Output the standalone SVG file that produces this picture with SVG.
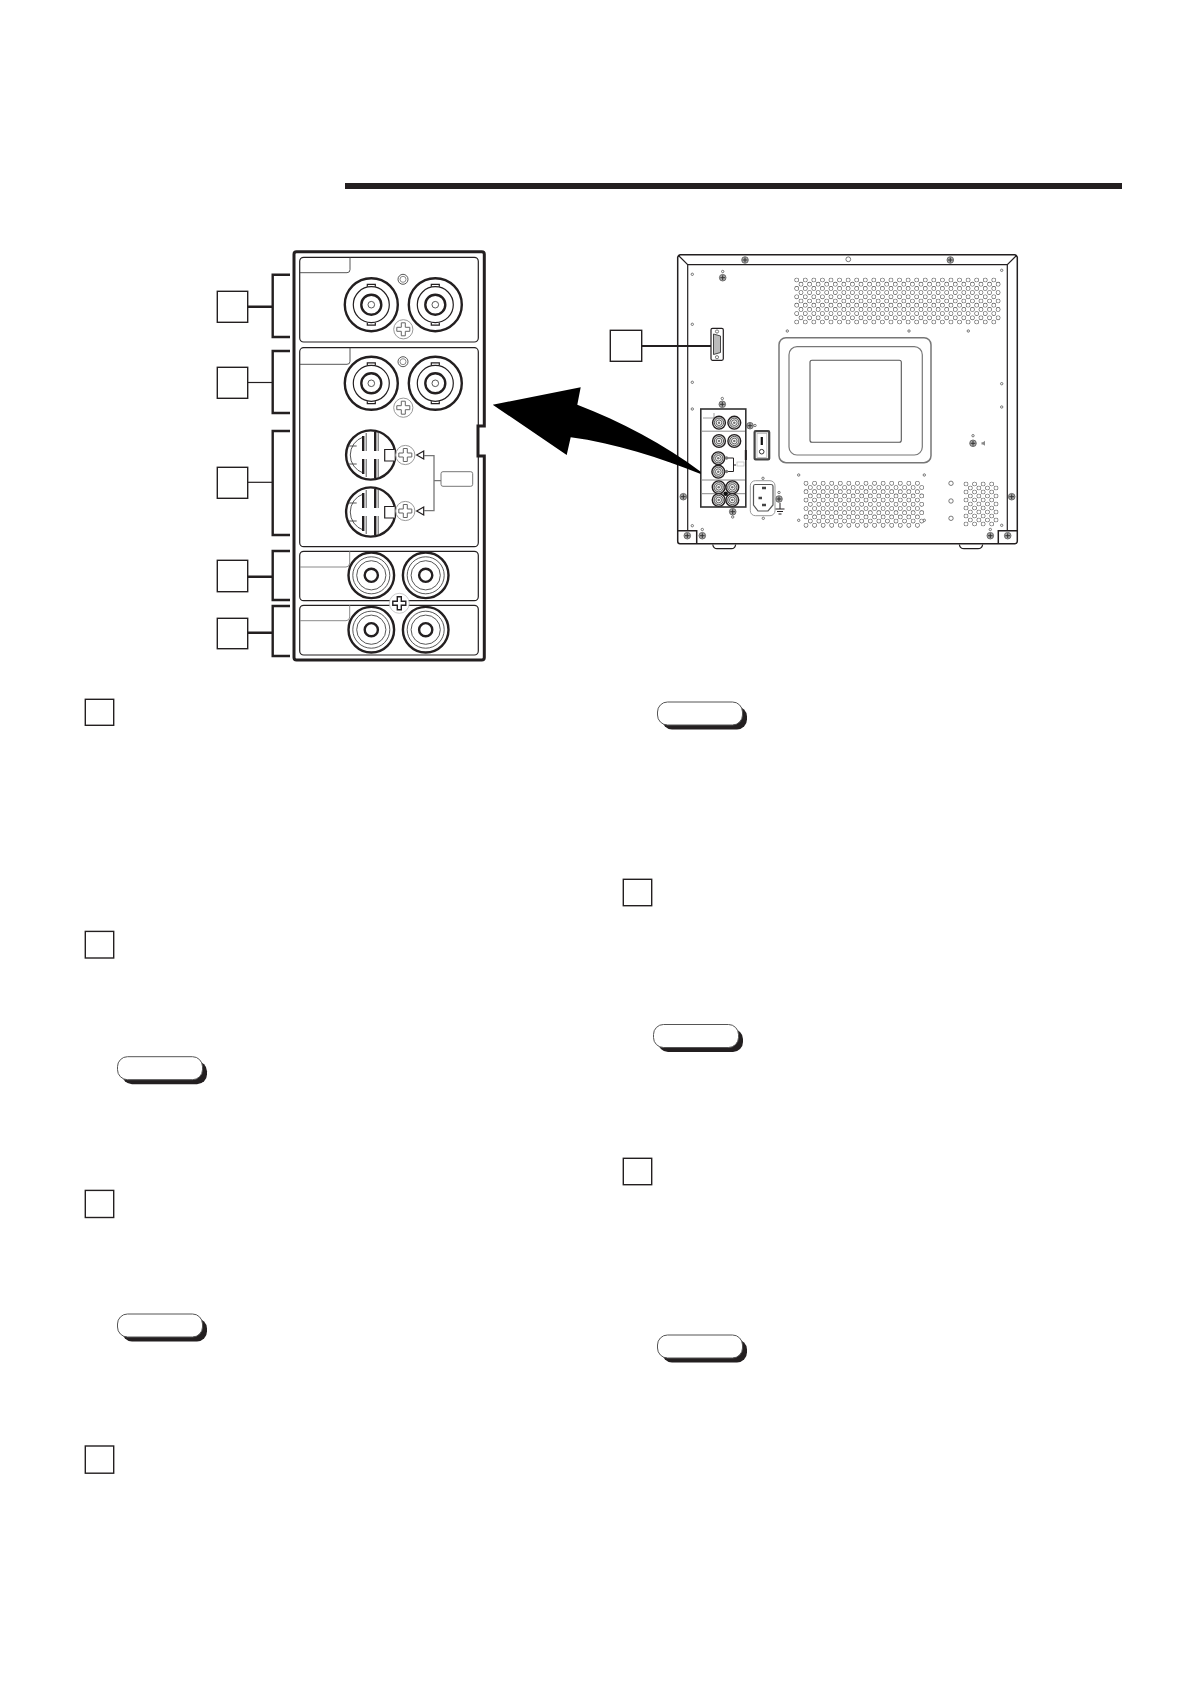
<svg xmlns="http://www.w3.org/2000/svg" xmlns:xlink="http://www.w3.org/1999/xlink" width="1188" height="1683" viewBox="0 0 1188 1683">
<style>
.box{fill:#fff;stroke:#231f20;stroke-width:1.4}
.th{fill:none;stroke:#231f20;stroke-width:2.4}
.md{fill:none;stroke:#231f20;stroke-width:1.2}
.tn{fill:none;stroke:#444;stroke-width:.9}
.gr{fill:none;stroke:#8a8a8a;stroke-width:1}
.lead{fill:none;stroke:#231f20;stroke-width:2.4}
.leadt{fill:none;stroke:#231f20;stroke-width:1.2}
.dot{fill:#fff;stroke:#444;stroke-width:.7}
.holeA{fill:none;stroke:#555;stroke-width:4.7;stroke-linecap:round;stroke-dasharray:0 8.57}
.holeB{fill:none;stroke:#fff;stroke-width:3.5;stroke-linecap:round;stroke-dasharray:0 8.57}
</style>
<defs>
<g id="bnc"><circle r="26.5" class="th"/><circle r="18" class="md"/><circle r="10" class="th"/><circle r="3.3" class="tn"/><path class="md" d="M-4 -18V-20.4H4V-18M-4 18V20.4H4V18"/></g>
<g id="rca"><circle r="22.8" class="th"/><circle r="18.5" class="tn"/><circle r="14.6" class="tn"/><circle r="6.6" class="th"/></g>
<g id="xlr"><circle r="24.6" class="th"/>
<path class="tn" d="M-14 -9H-22M-14 9H-22"/>
<path d="M-7.5 -18A19 19 0 0 0 -7.5 18" class="tn"/>
<path class="th" d="M-7.5 -19V-4M-7.5 4V19M4.5 -23V-4M4.5 4V23"/>
<path class="tn" d="M-4.5 -22V-4M-4.5 4V22M7.5 -23V-4M7.5 4V23"/>
<path d="M24 -5.5H14V6H24" fill="#fff" stroke="#231f20" stroke-width="1.2"/></g>
<path id="plus" d="M-2 -6.5H2V-2H6.5V2H2V6.5H-2V2H-6.5V-2H-2Z"/>
<g id="scr"><circle r="9.6" fill="#fff" stroke="#999" stroke-width="1"/><use xlink:href="#plus" href="#plus" fill="#fff" stroke="#666" stroke-width="1"/></g>
<g id="mini"><circle r="6.4" fill="#e4e4e4" stroke="#231f20" stroke-width="1.4"/><circle r="4.6" class="tn"/><circle r="2.8" fill="#fff" stroke="#444" stroke-width=".8"/><circle r="1.3" fill="#777"/></g>
<g id="sm"><circle r="3.3" fill="#aaa" stroke="#555" stroke-width=".8"/><path d="M-2.4 0H2.4M0 -2.4V2.4" stroke="#333" stroke-width="1"/></g>
<g id="pill"><rect x="4.5" y="4.5" width="85" height="23" rx="10" fill="#231f20"/><rect x="0" y="0" width="85" height="23" rx="10" fill="#fff" stroke="#555" stroke-width="1"/></g>
<path id="v1" d="M796.7 280h198M801 284.2h198M796.7 288.4h198M801 292.6h198M796.7 296.8h198M801 301h198M796.7 305.2h198M801 309.4h198M796.7 313.6h198M801 317.8h198M796.7 322h198"/>
<path id="v2" d="M806 483.3h112M810.3 487.5h112M806 491.7h112M810.3 495.9h112M806 500.1h112M810.3 504.3h112M806 508.5h112M810.3 512.7h112M806 516.9h112M810.3 521.1h112M806 525.3h112"/>
<path id="v3" d="M966 484h26M970.3 488h26M966 492h26M970.3 496h26M966 500h26M970.3 504h26M966 508h26M970.3 512h26M966 516h26M970.3 520h26M966 524h26"/>
</defs>
<rect width="1188" height="1683" fill="#fff"/>
<rect id="title-rule" x="345" y="183" width="777" height="6" fill="#231f20"/>

<g id="rear-panel">
<path d="M296.5 251.7H481.8Q484.3 251.7 484.3 254.2V426H478V456H484.3V657.5Q484.3 660 481.8 660H296.5Q294 660 294 657.5V254.2Q294 251.7 296.5 251.7Z" fill="#fff" stroke="#231f20" stroke-width="3"/>
<rect x="299.7" y="257.3" width="178.6" height="84.7" rx="4" class="md"/>
<path class="tn" d="M300 272.7H347Q350 272.7 350 269.7V257.3"/>
<rect x="299.7" y="347.7" width="178.6" height="199" rx="4" class="md"/>
<path class="tn" d="M300 364.3H347Q350 364.3 350 361.3V347.7"/>
<rect x="299.7" y="551.3" width="178.6" height="49.4" rx="4" class="md"/>
<path class="gr" d="M300 567H346Q349.7 567 349.7 563V551.3"/>
<rect x="299.7" y="605.3" width="178.6" height="49.7" rx="4" class="md"/>
<path class="gr" d="M300 620.7H346Q349.7 620.7 349.7 617V605.3"/>
<use href="#bnc" x="371.3" y="304.7"/><use href="#bnc" x="435.3" y="304.7"/>
<use href="#bnc" x="371.3" y="383.3"/><use href="#bnc" x="435.3" y="383.3"/>
<circle cx="403" cy="279.3" r="5" class="tn"/><circle cx="403" cy="279.3" r="3" class="gr"/>
<circle cx="403" cy="361.7" r="5" class="tn"/><circle cx="403" cy="361.7" r="3" class="gr"/>
<use href="#scr" x="403.3" y="329.3"/><use href="#scr" x="403.3" y="407.7"/>
<use href="#xlr" x="370.7" y="455"/><use href="#xlr" x="370.7" y="512"/>
<use href="#scr" x="405.3" y="455"/><use href="#scr" x="405.3" y="511"/>
<path class="md" d="M416.7 455L423.7 451V459ZM416.7 511L423.7 507V515Z"/>
<path d="M424 455.7H434V510.7H424M434 480.7H441" fill="none" stroke="#777" stroke-width="1.3"/>
<rect x="441" y="471.7" width="31.7" height="14.6" rx="2" fill="#fff" stroke="#777" stroke-width="1"/>
<use href="#rca" x="371.3" y="575.3"/><use href="#rca" x="425.7" y="575.3"/>
<use href="#rca" x="371.3" y="629.7"/><use href="#rca" x="425.7" y="629.7"/>
<circle cx="399.3" cy="603.3" r="10" fill="#fff" stroke="#bbb" stroke-width=".8"/>
<use href="#plus" x="399.3" y="603.3" fill="#fff" stroke="#231f20" stroke-width="1.4"/>
</g>

<g id="monitor">
<path d="M680 254.7H1015L1017.3 257V541.2Q1017.3 543.7 1015 543.7H680Q677.7 543.7 677.7 541.2V257Z" fill="#fff" stroke="#231f20" stroke-width="1.5"/>
<path class="md" d="M678 255L687.7 264.7H1007.3L1017 255M687.7 264.7V530.7M1007.3 264.7V530.7"/>
<path d="M677.7 530.7H696.7V543.7M1017.3 530.7H998.3V543.7" fill="none" stroke="#231f20" stroke-width="1.5"/>
<path class="md" d="M712.7 544.5Q713.5 548.7 717 548.7H731.5Q735 548.7 735.7 544.5M959.3 544.5Q960 548.7 964 548.7H978Q982 548.7 982.7 544.5"/>
<rect x="779" y="337.7" width="152" height="125" rx="7" fill="none" stroke="#777" stroke-width="1.5"/>
<rect x="789" y="346.7" width="133.3" height="108.3" rx="8" fill="none" stroke="#777" stroke-width="1.2"/>
<rect x="810" y="360.3" width="91.3" height="82" rx="2" fill="none" stroke="#555" stroke-width="1.1"/>
<use href="#v1" class="holeA"/><use href="#v1" class="holeB"/>
<use href="#v2" class="holeA"/><use href="#v2" class="holeB"/>
<use href="#v3" class="holeA"/><use href="#v3" class="holeB"/>
<g class="dot">
<circle cx="692.3" cy="274.3" r="1.2"/><circle cx="692.3" cy="324.3" r="1.2"/><circle cx="692.3" cy="382.3" r="1.2"/><circle cx="692.3" cy="409" r="1.2"/><circle cx="692.3" cy="525.7" r="1.2"/>
<circle cx="787.3" cy="331" r="1.2"/><circle cx="909" cy="331" r="1.2"/><circle cx="968.3" cy="331" r="1.2"/>
<circle cx="1001.7" cy="270.3" r="1.2"/><circle cx="1001.7" cy="383.7" r="1.2"/><circle cx="1001.7" cy="407" r="1.2"/><circle cx="1001.7" cy="525.3" r="1.2"/>
<circle cx="798.7" cy="475" r="1.2"/><circle cx="924.3" cy="475" r="1.2"/><circle cx="798.7" cy="520.3" r="1.2"/><circle cx="924.3" cy="520.3" r="1.2"/>
<circle cx="763" cy="478.3" r="1.2"/><circle cx="763.3" cy="518.3" r="1.2"/><circle cx="755" cy="425.5" r="1.2"/>
<circle cx="973" cy="435.7" r="1.2"/><circle cx="722.7" cy="271.5" r="1.2"/><circle cx="722.3" cy="398.5" r="1.2"/><circle cx="732.7" cy="517" r="1.2"/><circle cx="779" cy="492.5" r="1.2"/><circle cx="702.3" cy="529.5" r="1.2"/><circle cx="990.3" cy="529.5" r="1.2"/>
<circle cx="951" cy="483.3" r="2.2"/><circle cx="951" cy="501" r="2.2"/><circle cx="951" cy="518.3" r="2.2"/><circle cx="848.3" cy="259.3" r="2.4"/>
</g>
<use href="#sm" x="745" y="260"/><use href="#sm" x="722.7" y="277.7"/><use href="#sm" x="950.3" y="260"/><use href="#sm" x="683.3" y="496.7"/><use href="#sm" x="1011.7" y="496.7"/><use href="#sm" x="687.3" y="535.7"/><use href="#sm" x="1007.7" y="535.7"/><use href="#sm" x="702.3" y="535.7"/><use href="#sm" x="990.3" y="535.7"/><use href="#sm" x="722.3" y="404.3"/><use href="#sm" x="732.7" y="511.7"/><use href="#sm" x="750" y="425.7"/><use href="#sm" x="973" y="443.3"/><use href="#sm" x="779" y="499"/>
<path d="M981.5 442.2H983L985 440.8V445.8L983 444.4H981.5Z" fill="#888"/>
<rect x="711" y="328.3" width="12.3" height="32" rx="1.5" fill="#fff" stroke="#231f20" stroke-width="1.2"/>
<path d="M713.5 334L720.5 336V352.5L713.5 354.5Z" fill="#bbb" stroke="#333" stroke-width=".9"/>
<circle cx="717" cy="331.5" r="1.6" class="dot"/><circle cx="717" cy="357.2" r="1.6" class="dot"/>
<rect x="754.6" y="431.2" width="14.6" height="28.2" rx="1" fill="#fff" stroke="#444" stroke-width="2.2"/>
<rect x="757" y="433.5" width="9.8" height="24" fill="#fff" stroke="#aaa" stroke-width=".7"/>
<rect x="760.7" y="437" width="2.2" height="8" fill="#111"/><circle cx="761.7" cy="451.7" r="2.3" fill="#fff" stroke="#333" stroke-width="1"/>
<rect x="750.3" y="480.7" width="24.7" height="35" rx="5" fill="#fff" stroke="#999" stroke-width="1"/>
<path d="M755 484.5H771Q773 484.5 773 486.5V505L768 511H758L753.5 505V486.5Q753.5 484.5 755 484.5Z" fill="#fff" stroke="#555" stroke-width="1.2"/>
<path d="M762 488H766M758.5 498H762M762 505H766" stroke="#444" stroke-width="2.4" fill="none"/>
<path d="M780 503V509M775.5 509H784.5M777 511.5H783M778.5 514H781.5" stroke="#231f20" stroke-width="1" fill="none"/>
</g>

<g id="mini-panel">
<rect x="700.8" y="409" width="45" height="98" fill="#fff" stroke="#333" stroke-width="1.6"/>
<path class="gr" d="M702 431.2H745M702 480H745M702 493.7H745"/>
<path d="M703 418H714V413" fill="none" stroke="#888" stroke-width=".8"/>
<path d="M745.8 450V460" stroke="#231f20" stroke-width="2"/>
<use href="#mini" x="719" y="422.7"/><use href="#mini" x="734.3" y="422.7"/>
<use href="#mini" x="719" y="441"/><use href="#mini" x="734.3" y="441"/>
<use href="#mini" x="718.3" y="458.3"/><use href="#mini" x="718.3" y="471.7"/>
<path d="M726 458H733.5V471.5H726M733.5 465H736" fill="none" stroke="#231f20" stroke-width="1"/>
<circle cx="726.5" cy="458" r="1.7" fill="#777"/><circle cx="726.5" cy="471.5" r="1.7" fill="#777"/>
<rect x="737" y="462" width="7" height="4" fill="#fff" stroke="#bbb" stroke-width=".7"/>
<use href="#mini" x="718.7" y="487.3"/><use href="#mini" x="732.3" y="487.3"/>
<use href="#mini" x="718.7" y="500"/><use href="#mini" x="732.3" y="500"/>
<circle cx="725.7" cy="493.7" r="2.2" fill="#111"/>
</g>

<g id="arrow">
<path d="M492.7 404.7L580.7 387.3L577.3 404.7C620 421 665 445 700.7 471.7L700.7 474C660 458 615 443 570.7 437.3L566.7 455Z" fill="#000"/>
</g>

<g id="connectors">
<path class="lead" d="M290 274.7H272.7V337H290M247.7 306.7H272.7"/>
<path class="lead" d="M290 351H272.7V413H290"/><path class="leadt" d="M247.7 382.5H272.7"/>
<path class="lead" d="M290 431H272.7V535H290"/><path class="leadt" d="M247.7 482.3H272.7"/>
<path class="lead" d="M290 551H272.7V600H290M247.7 576.7H272.7"/>
<path class="lead" d="M290 606H272.7V656H290M247.7 632.7H272.7"/>
<path d="M641.7 346H711" fill="none" stroke="#231f20" stroke-width="1.8"/>
</g>

<g id="callout-1"><rect class="box" x="217.3" y="291.3" width="30.4" height="31"/></g>
<g id="callout-2"><rect class="box" x="217.3" y="367.3" width="30.4" height="31"/></g>
<g id="callout-3"><rect class="box" x="217.3" y="467.3" width="30.4" height="31"/></g>
<g id="callout-4"><rect class="box" x="217.3" y="560.3" width="30.4" height="31.4"/></g>
<g id="callout-5"><rect class="box" x="217.3" y="618.3" width="30.4" height="30.4"/></g>
<g id="callout-6"><rect class="box" x="610.3" y="330.3" width="31.4" height="31"/></g>

<g id="item-1"><rect class="box" x="85.3" y="699.3" width="28.4" height="26"/></g>
<g id="item-2"><rect class="box" x="85.3" y="931.4" width="28.4" height="26.6"/></g>
<g id="item-3"><rect class="box" x="85.3" y="1190.4" width="28.4" height="27.1"/></g>
<g id="item-4"><rect class="box" x="85.3" y="1446" width="28.4" height="27.2"/></g>
<g id="item-5"><rect class="box" x="623.3" y="879.3" width="28.4" height="26.4"/></g>
<g id="item-6"><rect class="box" x="623.3" y="1158.3" width="28.4" height="26.4"/></g>

<g id="note-1"><use href="#pill" x="117.5" y="1056.7"/></g>
<g id="note-2"><use href="#pill" x="117.5" y="1314"/></g>
<g id="note-3"><use href="#pill" x="657.5" y="702"/></g>
<g id="note-4"><use href="#pill" x="653.5" y="1024.5"/></g>
<g id="note-5"><use href="#pill" x="657.5" y="1335"/></g>
</svg>
